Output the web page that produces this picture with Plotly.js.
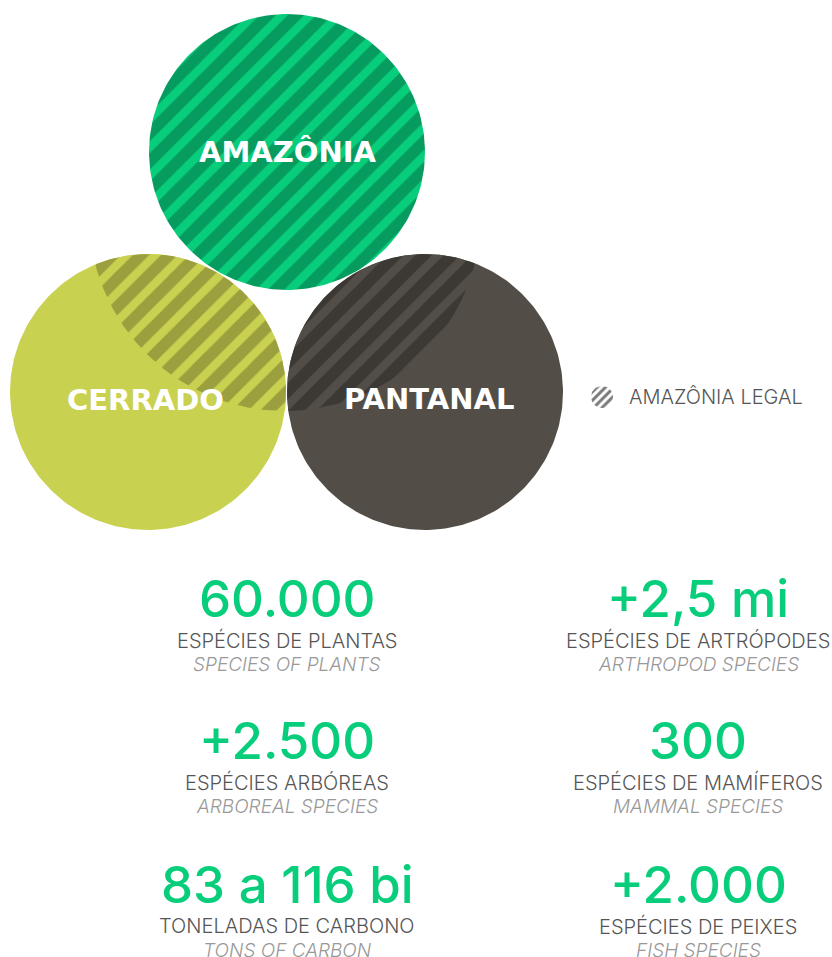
<!DOCTYPE html>
<html>
<head>
<meta charset="utf-8">
<script src="https://cdn.plot.ly/plotly-3.0.1.min.js"></script>
<style>
  html, body { margin: 0; padding: 0; background: #fff; }
  #chart { width: 832px; height: 957px; }
</style>
</head>
<body>
<div id="chart"></div>
<script>
// biomes (Venn circles)
const biomes = ['AMAZÔNIA', 'CERRADO', 'PANTANAL'];
const biomeColors = ['#08CE7C', '#C9D150', '#524E47'];
const stripeColors = ['#079C5F', '#9C9F3D', '#3C3934'];

// stats below the diagram
const statValues = ['60.000', '+2,5 mi', '+2.500', '300', '83 a 116 bi', '+2.000'];
const statLabelsPt = ['ESPÉCIES DE PLANTAS', 'ESPÉCIES DE ARTRÓPODES', 'ESPÉCIES ARBÓREAS',
  'ESPÉCIES DE MAMÍFEROS', 'TONELADAS DE CARBONO', 'ESPÉCIES DE PEIXES'];
const statLabelsEn = ['SPECIES OF PLANTS', 'ARTHROPOD SPECIES', 'ARBOREAL SPECIES',
  'MAMMAL SPECIES', 'TONS OF CARBON', 'FISH SPECIES'];

const legendLabel = 'AMAZÔNIA LEGAL';

// geometry (pixel space)
const circleX = [287, 148, 425];
const circleY = [152, 392, 392];
const circleR = 138;
const legal = { x: 285, y: 215, r: 196 };
const colX = [287, 698];
const rowY = [598, 740, 884];

function circlePts(cx, cy, r, n) {
  const xs = [], ys = [];
  for (let i = 0; i <= n; i++) {
    const a = 2 * Math.PI * i / n;
    xs.push(cx + r * Math.cos(a));
    ys.push(cy + r * Math.sin(a));
  }
  return { x: xs, y: ys };
}

// intersection of two circles as a polygon
function lens(a, b) {
  const pts = [];
  const pa = circlePts(a.x, a.y, a.r, 720), pb = circlePts(b.x, b.y, b.r, 720);
  for (let i = 0; i < pa.x.length; i++)
    if (Math.hypot(pa.x[i] - b.x, pa.y[i] - b.y) <= b.r) pts.push([pa.x[i], pa.y[i]]);
  for (let i = 0; i < pb.x.length; i++)
    if (Math.hypot(pb.x[i] - a.x, pb.y[i] - a.y) <= a.r) pts.push([pb.x[i], pb.y[i]]);
  const mx = pts.reduce((s, p) => s + p[0], 0) / pts.length;
  const my = pts.reduce((s, p) => s + p[1], 0) / pts.length;
  pts.sort((p, q) => Math.atan2(p[1] - my, p[0] - mx) - Math.atan2(q[1] - my, q[0] - mx));
  pts.push(pts[0]);
  return { x: pts.map(p => p[0]), y: pts.map(p => p[1]) };
}

const stripe = (bg, fg) => ({ shape: '/', bgcolor: bg, fgcolor: fg, size: 20, solidity: 0.58 });
const traces = [];

// Cerrado and Pantanal plain, then their Amazônia Legal part hatched
[1, 2].forEach(i => {
  const c = circlePts(circleX[i], circleY[i], circleR, 240);
  traces.push({
    x: c.x, y: c.y, type: 'scatter', mode: 'lines', fill: 'toself',
    fillcolor: biomeColors[i], line: { width: 0 }, hoverinfo: 'skip'
  });
  const l = lens({ x: circleX[i], y: circleY[i], r: circleR }, legal);
  traces.push({
    x: l.x, y: l.y, type: 'scatter', mode: 'lines', fill: 'toself',
    fillcolor: biomeColors[i], fillpattern: stripe(biomeColors[i], stripeColors[i]),
    line: { width: 0 }, hoverinfo: 'skip'
  });
});

// Amazônia fully hatched
const am = circlePts(circleX[0], circleY[0], circleR, 240);
traces.push({
  x: am.x, y: am.y, type: 'scatter', mode: 'lines', fill: 'toself',
  fillcolor: biomeColors[0], fillpattern: stripe(biomeColors[0], stripeColors[0]),
  line: { width: 0 }, hoverinfo: 'skip'
});

// legend icon
const ic = circlePts(602, 397, 11, 60);
traces.push({
  x: ic.x, y: ic.y, type: 'scatter', mode: 'lines', fill: 'toself',
  fillcolor: '#ffffff', fillpattern: { shape: '/', bgcolor: '#ffffff', fgcolor: '#7a7a7a', size: 6, solidity: 0.5 },
  line: { width: 0 }, hoverinfo: 'skip'
});

const annotations = [];
const titlePos = [[287, 152], [145, 400], [429, 399]];
biomes.forEach((b, i) => annotations.push({
  x: titlePos[i][0], y: titlePos[i][1], xref: 'x', yref: 'y', text: b, showarrow: false,
  font: { family: 'DejaVu Sans', size: 29, color: '#ffffff', weight: 700 }
}));

annotations.push({
  x: 627, y: 397, xref: 'x', yref: 'y', xanchor: 'left', text: legendLabel, showarrow: false,
  font: { family: 'Inter', size: 20, color: '#555555', weight: 300 }
});

statValues.forEach((v, i) => {
  const x = colX[i % 2], y = rowY[Math.floor(i / 2)];
  annotations.push({
    x: x, y: y, xref: 'x', yref: 'y', text: v, showarrow: false,
    font: { family: 'Inter', size: 51, color: '#08CE7C', weight: 500 }
  });
  annotations.push({
    x: x, y: y + 42, xref: 'x', yref: 'y', text: statLabelsPt[i], showarrow: false,
    font: { family: 'Inter', size: 20, color: '#555555', weight: 300 }
  });
  annotations.push({
    x: x, y: y + 66, xref: 'x', yref: 'y', text: statLabelsEn[i], showarrow: false,
    font: { family: 'Inter', size: 19, color: '#999999', weight: 300, style: 'italic' }
  });
});

const layout = {
  width: 832, height: 957, autosize: false,
  margin: { l: 0, r: 0, t: 0, b: 0 },
  paper_bgcolor: '#ffffff', plot_bgcolor: '#ffffff',
  showlegend: false, hovermode: false,
  xaxis: { range: [0, 832], visible: false, fixedrange: true },
  yaxis: { range: [957, 0], visible: false, fixedrange: true },
  annotations: annotations
};

Plotly.newPlot('chart', traces, layout, { displayModeBar: false, staticPlot: true });
</script>
</body>
</html>
